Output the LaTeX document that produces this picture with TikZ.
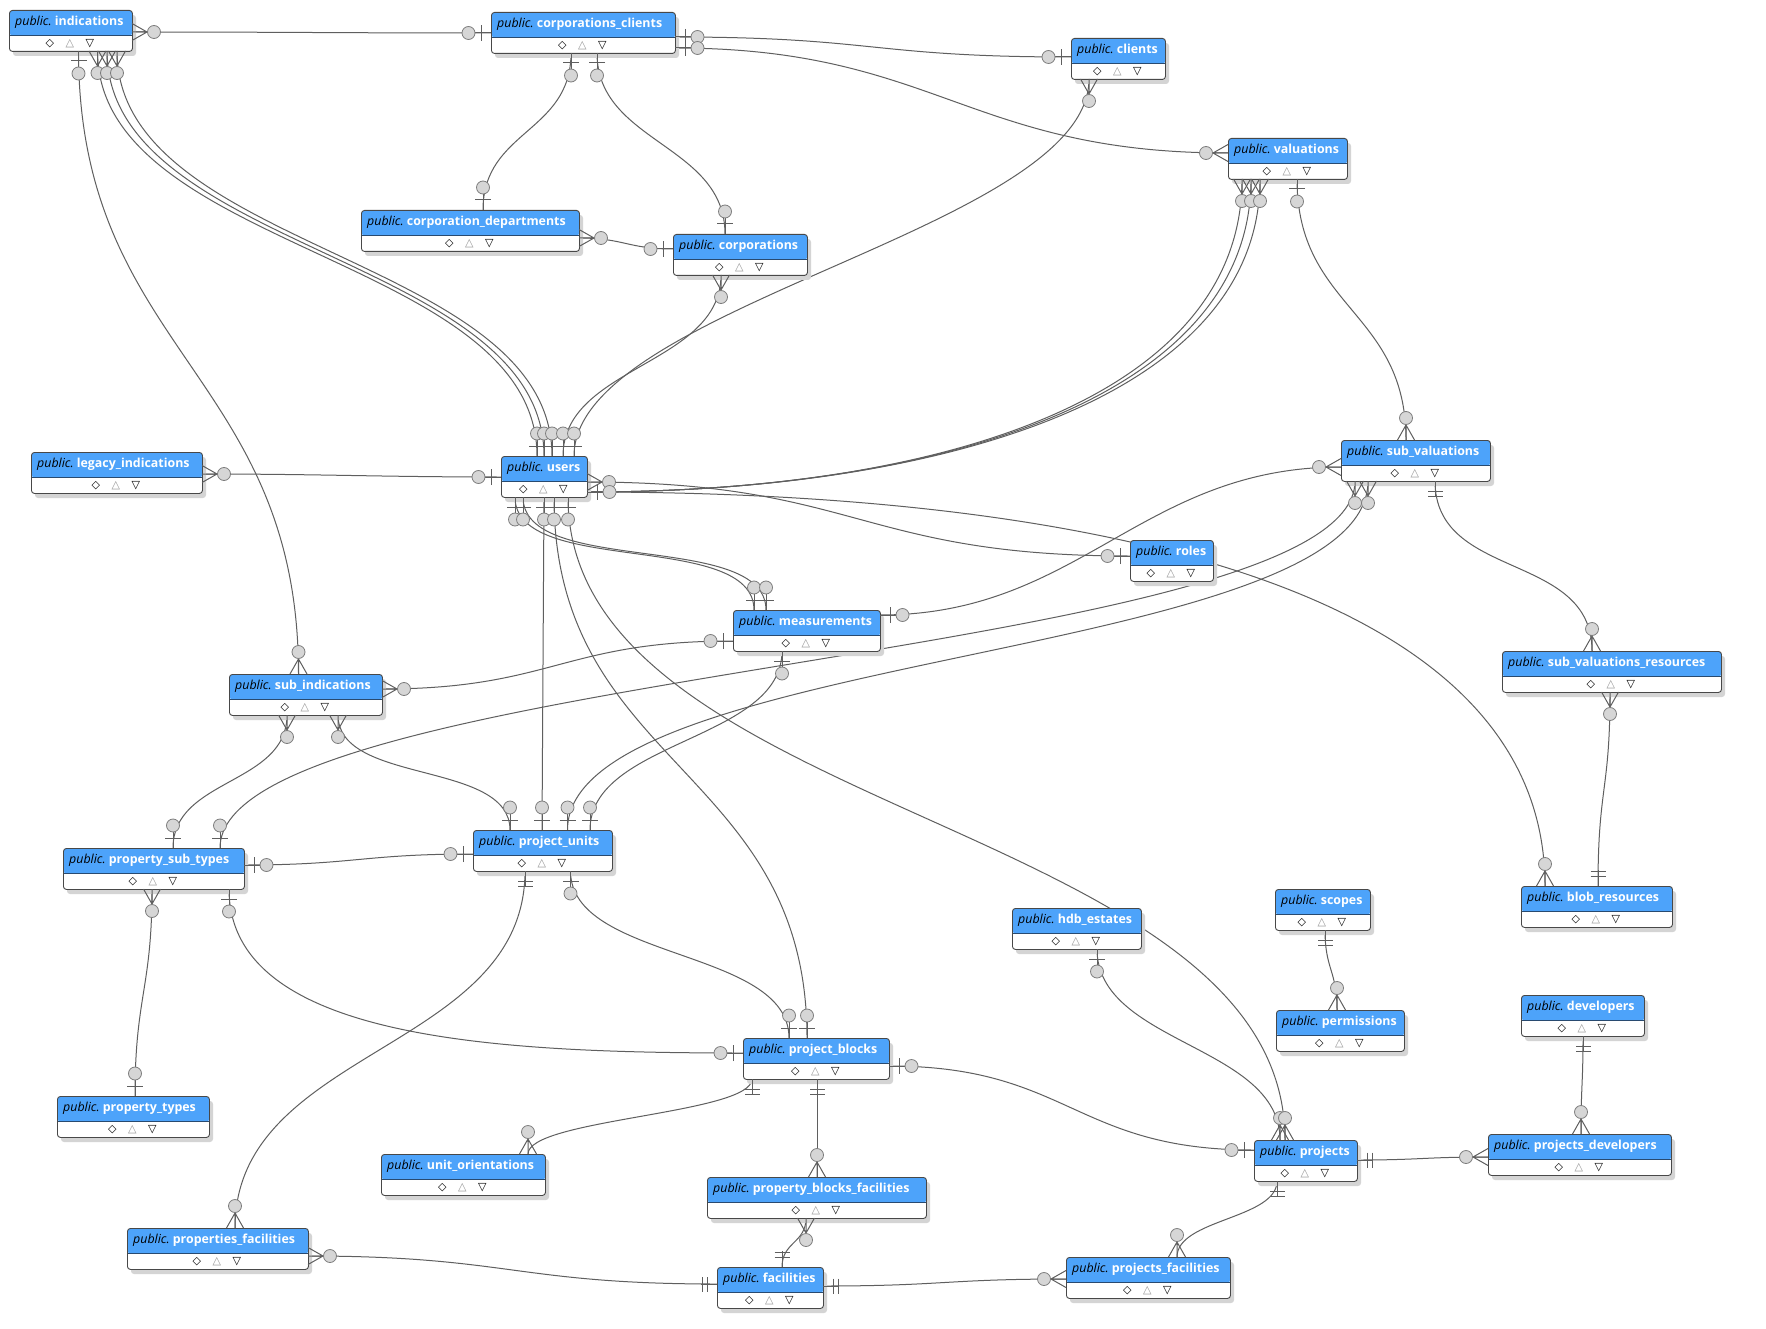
\documentclass[tikz,border=0pt]{standalone}
\usepackage{fontspec}
\setmainfont{Open Sans}
\newfontfamily\keysfont{DejaVu Sans}
\usetikzlibrary{positioning}

\definecolor{headerblue}{RGB}{77,163,250}
\definecolor{headerline}{RGB}{40,74,112}
\definecolor{boxborder}{RGB}{72,72,72}
\definecolor{boxshadow}{RGB}{212,212,212}
\definecolor{relgray}{RGB}{95,95,95}
\definecolor{dotfill}{RGB}{214,214,214}
\definecolor{dotdraw}{RGB}{125,125,125}
\definecolor{keygray}{RGB}{150,150,150}

\tikzset{
  tablebox/.style={draw=boxborder, line width=0.9pt, fill=white,
    rounded corners=3pt, inner sep=0pt, minimum height=41pt, anchor=north west,
    path picture={
      \fill[headerblue] (path picture bounding box.north west)
        rectangle ([yshift=-25pt]path picture bounding box.north east);
      \draw[headerline, line width=1.3pt]
        ([yshift=-25pt]path picture bounding box.north west)
        -- ([yshift=-25pt]path picture bounding box.north east);
    }},
  tabletitle/.style={anchor=west, inner sep=0pt, text=black,
    font=\fontsize{12.4}{14}\selectfont},
  tablekey/.style={inner sep=0pt, font=\keysfont\fontsize{11}{12}\selectfont},
  relline/.style={draw=relgray, line width=1pt},
  reldot/.style={draw=dotdraw, fill=dotfill, line width=0.8pt},
  pics/manyopt/.style={code={
    \draw[relline] (0,-8.5) -- (15,0) -- (0,8.5) (0,0) -- (15,0);
    \draw[reldot] (22,0) circle (6.5pt);
  }},
  pics/oneopt/.style={code={
    \draw[relline] (0,0) -- (16,0) (10,-8) -- (10,8);
    \draw[reldot] (22.5,0) circle (6.5pt);
  }},
  pics/onemand/.style={code={
    \draw[relline] (0,0) -- (16,0) (10,-7.5) -- (10,7.5) (15,-7.5) -- (15,7.5);
  }},
}

% table: name, left, top, right, label
\newcommand\ertable[5]{%
  \fill[boxshadow, rounded corners=3pt] (#2+4,#3+5) rectangle (#4+4,#3+46);
  \node[tablebox, minimum width={#4-#2}] (#1) at (#2,#3) {};
  \node[tabletitle] (#1-title) at ([xshift=6pt, yshift=-12.5pt]#1.north west)
    {\textit{public.}\ \textcolor{white}{\bfseries #5}};
  \node[tablekey] (#1-k1) at ([xshift=-21pt, yshift=8pt]#1.south) {◇};
  \node[tablekey, text=keygray] (#1-k2) at ([xshift=-1pt, yshift=8pt]#1.south) {△};
  \node[tablekey] (#1-k3) at ([xshift=19pt, yshift=8pt]#1.south) {\bfseries ▽};
}

\begin{document}
\begin{tikzpicture}[x=1pt, y=-1pt]

\useasboundingbox (0,0) rectangle (1766,1329);
\fill[white] (0,0) rectangle (1766,1329);

%--- END POINTS ON THE TABLE EDGES ---
% indications
\coordinate (ind-e) at (132,32);
\coordinate (ind-s0) at (78.5,51);
\coordinate (ind-s1) at (97.5,51);
\coordinate (ind-s2) at (107,51);
\coordinate (ind-s3) at (117,51);
% corporations_clients
\coordinate (cc-w) at (491,33);
\coordinate (cc-e1) at (675,37);
\coordinate (cc-e2) at (675,48);
\coordinate (cc-s1) at (571,53);
\coordinate (cc-s2) at (597,53);
% clients
\coordinate (cl-w) at (1071,57);
\coordinate (cl-s) at (1089,79);
% valuations
\coordinate (va-w) at (1228,153);
\coordinate (va-s1) at (1242,179);
\coordinate (va-s2) at (1251,179);
\coordinate (va-s3) at (1260,179);
\coordinate (va-s4) at (1297,179);
% corporation_departments, corporations
\coordinate (cd-n) at (483,210);
\coordinate (cd-e) at (579,238);
\coordinate (co-n) at (725,234);
\coordinate (co-w) at (673,249);
\coordinate (co-s) at (721,275);
% legacy_indications
\coordinate (li-e) at (202,474);
% users
\coordinate (us-w) at (501,477);
\coordinate (us-n1) at (537,456);
\coordinate (us-n2) at (544,456);
\coordinate (us-n3) at (552,456);
\coordinate (us-n4) at (563,456);
\coordinate (us-n5) at (574,456);
\coordinate (us-e1) at (587,482);
\coordinate (us-e2) at (587,492);
\coordinate (us-s1) at (515,497);
\coordinate (us-s2) at (523,497);
\coordinate (us-s3) at (544,497);
\coordinate (us-s4) at (554,497);
\coordinate (us-s5) at (568,497);
% sub_valuations, roles
\coordinate (sv-n) at (1406,440);
\coordinate (sv-w) at (1341,467);
\coordinate (sv-s1) at (1355,481);
\coordinate (sv-s2) at (1368,481);
\coordinate (sv-s3) at (1435,481);
\coordinate (ro-w) at (1130,556);
% measurements
\coordinate (me-n1) at (754,610);
\coordinate (me-n2) at (766,610);
\coordinate (me-w) at (733,641);
\coordinate (me-e) at (880,615);
\coordinate (me-s) at (782,651);
% sub_indications, sub_valuations_resources
\coordinate (si-n) at (298.5,674);
\coordinate (si-e) at (382,689);
\coordinate (si-s1) at (287,715);
\coordinate (si-s2) at (338,715);
\coordinate (svr-n) at (1592,651);
\coordinate (svr-s) at (1610,692);
% property_sub_types, project_units
\coordinate (pst-n1) at (173,848);
\coordinate (pst-n2) at (220,848);
\coordinate (pst-e) at (244,865);
\coordinate (pst-s1) at (152,889);
\coordinate (pst-s2) at (229,889);
\coordinate (pu-n1) at (510,830);
\coordinate (pu-n2) at (542,830);
\coordinate (pu-n3) at (567.5,830);
\coordinate (pu-n4) at (590,830);
\coordinate (pu-w) at (473,854);
\coordinate (pu-s1) at (525,871);
\coordinate (pu-s2) at (570.5,871);
% blob_resources, hdb_estates, scopes, permissions, developers
\coordinate (bl-n1) at (1545,886);
\coordinate (bl-n2) at (1598,886);
\coordinate (hd-s) at (1097,949);
\coordinate (sc-s) at (1325,930);
\coordinate (pe-n) at (1337,1010);
\coordinate (de-s) at (1583,1036);
% project_blocks, property_types
\coordinate (pb-n1) at (789,1038);
\coordinate (pb-n2) at (807,1038);
\coordinate (pb-w) at (743,1053);
\coordinate (pb-e) at (889,1066);
\coordinate (pb-s1) at (752,1079);
\coordinate (pb-s2) at (817,1079);
\coordinate (pt-n) at (135,1096);
% projects, projects_developers
\coordinate (pj-n1) at (1280,1140);
\coordinate (pj-n2) at (1285,1140);
\coordinate (pj-w) at (1254,1150);
\coordinate (pj-e) at (1357,1160);
\coordinate (pj-s) at (1277,1181);
\coordinate (pd-n) at (1581,1134);
\coordinate (pd-w) at (1488,1157);
% bottom row
\coordinate (uo-n) at (528,1154);
\coordinate (pbf-n) at (817,1177);
\coordinate (pbf-s) at (806,1218);
\coordinate (pf-n) at (235,1228);
\coordinate (pf-e) at (308,1256);
\coordinate (fa-n) at (782,1267);
\coordinate (fa-w) at (717,1284);
\coordinate (fa-e) at (823,1286);
\coordinate (pfc-n) at (1177,1257);
\coordinate (pfc-w) at (1066,1279);

%--- RELATIONS ---
\draw[relline] (ind-e) .. controls +(150,0) and +(-150,0) .. (cc-w);
\draw[relline] (ind-s0) .. controls +(0,300) and +(0,-300) .. (si-n);
\draw[relline] (ind-s1) .. controls +(0,200) and +(0,-200) .. (us-n1);
\draw[relline] (ind-s2) .. controls +(0,200) and +(0,-200) .. (us-n2);
\draw[relline] (ind-s3) .. controls +(0,200) and +(0,-200) .. (us-n3);
\draw[relline] (us-n4) .. controls +(0,-90) and +(0,90) .. (co-s);
\draw[relline] (us-n5) .. controls +(0,-150) and +(0,150) .. (cl-s);
\draw[relline] (cc-e1) .. controls +(200,0) and +(-200,0) .. (cl-w);
\draw[relline] (cc-e2) .. controls +(260,0) and +(-260,0) .. (va-w);
\draw[relline] (cc-s1) .. controls +(0,80) and +(0,-80) .. (cd-n);
\draw[relline] (cc-s2) .. controls +(0,90) and +(0,-90) .. (co-n);
\draw[relline] (cd-e) .. controls +(45,0) and +(-45,0) .. (co-w);
\draw[relline] (va-s1) .. controls +(0,220) and +(350,0) .. (us-e2);
\draw[relline] (va-s2) .. controls +(0,220) and +(350,0) .. (us-e2);
\draw[relline] (va-s3) .. controls +(0,220) and +(350,0) .. (us-e2);
\draw[relline] (va-s4) .. controls +(0,130) and +(0,-130) .. (sv-n);
\draw[relline] (li-e) .. controls +(120,0) and +(-120,0) .. (us-w);
\draw[relline] (us-e1) .. controls +(270,0) and +(-270,0) .. (ro-w);
\draw[relline] (us-e2) .. controls +(500,0) and +(0,-300) .. (bl-n1);
\draw[relline] (us-s1) .. controls +(0,80) and +(0,-80) .. (me-n1);
\draw[relline] (us-s2) .. controls +(0,80) and +(0,-80) .. (me-n2);
\draw[relline] (us-s3) -- (pu-n2);
\draw[relline] (us-s4) .. controls +(0,270) and +(0,-270) .. (pb-n2);
\draw[relline] (us-s5) .. controls +(0,320) and +(0,-320) .. (pj-n2);
\draw[relline] (sv-w) .. controls +(-200,0) and +(200,0) .. (me-e);
\draw[relline] (sv-s1) .. controls +(0,180) and +(0,-180) .. (pst-n2);
\draw[relline] (sv-s2) .. controls +(0,180) and +(0,-180) .. (pu-n3);
\draw[relline] (sv-s3) .. controls +(0,100) and +(0,-100) .. (svr-n);
\draw[relline] (svr-s) .. controls +(0,100) and +(0,-100) .. (bl-n2);
\draw[relline] (me-w) .. controls +(-170,0) and +(170,0) .. (si-e);
\draw[relline] (me-s) .. controls +(0,90) and +(0,-90) .. (pu-n4);
\draw[relline] (si-s1) .. controls +(0,70) and +(0,-70) .. (pst-n1);
\draw[relline] (si-s2) .. controls +(0,70) and +(0,-70) .. (pu-n1);
\draw[relline] (pst-e) .. controls +(110,0) and +(-110,0) .. (pu-w);
\draw[relline] (pst-s1) .. controls +(0,100) and +(0,-100) .. (pt-n);
\draw[relline] (pst-s2) .. controls +(0,150) and +(-250,0) .. (pb-w);
\draw[relline] (pu-s1) .. controls +(0,180) and +(0,-180) .. (pf-n);
\draw[relline] (pu-s2) .. controls +(0,90) and +(0,-90) .. (pb-n1);
\draw[relline] (pb-e) .. controls +(180,0) and +(-180,0) .. (pj-w);
\draw[relline] (pb-s1) .. controls +(0,35) and +(0,-35) .. (uo-n);
\draw[relline] (pb-s2) -- (pbf-n);
\draw[relline] (pbf-s) .. controls +(0,25) and +(0,-25) .. (fa-n);
\draw[relline] (pf-e) .. controls +(200,0) and +(-200,0) .. (fa-w);
\draw[relline] (fa-e) .. controls +(120,0) and +(-120,0) .. (pfc-w);
\draw[relline] (hd-s) .. controls +(0,95) and +(0,-95) .. (pj-n1);
\draw[relline] (sc-s) .. controls +(0,40) and +(0,-40) .. (pe-n);
\draw[relline] (de-s) .. controls +(0,50) and +(0,-50) .. (pd-n);
\draw[relline] (pj-e) .. controls +(65,0) and +(-65,0) .. (pd-w);
\draw[relline] (pj-s) .. controls +(0,38) and +(0,-38) .. (pfc-n);

%--- TABLES ---
\ertable{indications}{9}{10}{132}{indications}
\ertable{corpclients}{491}{12}{675}{corporations\_clients}
\ertable{clients}{1071}{38}{1165}{clients}
\ertable{valuations}{1228}{138}{1347}{valuations}
\ertable{corpdepts}{361}{210}{579}{corporation\_departments}
\ertable{corporations}{673}{234}{807}{corporations}
\ertable{legacyind}{31}{452}{202}{legacy\_indications}
\ertable{users}{501}{456}{587}{users}
\ertable{subval}{1341}{440}{1490}{sub\_valuations}
\ertable{roles}{1130}{540}{1213}{roles}
\ertable{measurements}{733}{610}{880}{measurements}
\ertable{subind}{229}{674}{382}{sub\_indications}
\ertable{subvalres}{1502}{651}{1721}{sub\_valuations\_resources}
\ertable{propsubtypes}{63}{848}{244}{property\_sub\_types}
\ertable{projunits}{473}{830}{612}{project\_units}
\ertable{blobres}{1521}{886}{1672}{blob\_resources}
\ertable{hdbestates}{1012}{908}{1141}{hdb\_estates}
\ertable{scopes}{1275}{889}{1370}{scopes}
\ertable{permissions}{1276}{1010}{1404}{permissions}
\ertable{developers}{1521}{995}{1644}{developers}
\ertable{projblocks}{743}{1038}{889}{project\_blocks}
\ertable{proptypes}{57}{1096}{209}{property\_types}
\ertable{projects}{1254}{1140}{1357}{projects}
\ertable{projdevs}{1488}{1134}{1671}{projects\_developers}
\ertable{unitorient}{381}{1154}{545}{unit\_orientations}
\ertable{propblockfac}{707}{1177}{926}{property\_blocks\_facilities}
\ertable{propfac}{127}{1228}{308}{properties\_facilities}
\ertable{facilities}{717}{1267}{823}{facilities}
\ertable{projfac}{1066}{1257}{1230}{projects\_facilities}

%--- ENDS: many, zero or one ---
\foreach \p in {ind-e, cd-e, li-e, us-e1, si-e, pf-e} \pic at (\p) {manyopt};
\foreach \p in {va-w, sv-w, pd-w, pfc-w} \pic[rotate=180] at (\p) {manyopt};
\foreach \p in {ind-s1, ind-s2, ind-s3, cl-s, va-s1, va-s2, va-s3, co-s, sv-s1, sv-s2,
  svr-s, si-s1, si-s2, pst-s1, pbf-s} \pic[rotate=-90] at (\p) {manyopt};
\foreach \p in {sv-n, si-n, svr-n, bl-n1, pe-n, pj-n1, pj-n2, pd-n, uo-n, pbf-n,
  pf-n, pfc-n} \pic[rotate=90] at (\p) {manyopt};

\foreach \p in {cc-e1, cc-e2, us-e2, me-e, pst-e, pb-e} \pic at (\p) {oneopt};
\foreach \p in {cc-w, cl-w, co-w, us-w, ro-w, me-w, pu-w, pb-w, pj-w}
  \pic[rotate=180] at (\p) {oneopt};
\foreach \p in {ind-s0, cc-s1, cc-s2, va-s4, us-s1, us-s2, us-s3, us-s4, us-s5, me-s,
  pst-s2, pu-s2, hd-s} \pic[rotate=-90] at (\p) {oneopt};
\foreach \p in {cd-n, co-n, us-n1, us-n2, us-n3, us-n4, us-n5, me-n1, me-n2, pst-n1,
  pst-n2, pu-n1, pu-n2, pu-n3, pu-n4, pb-n1, pb-n2, pt-n} \pic[rotate=90] at (\p) {oneopt};

% exactly one
\foreach \p in {pj-e, fa-e} \pic at (\p) {onemand};
\pic[rotate=180] at (fa-w) {onemand};
\foreach \p in {sv-s3, pu-s1, sc-s, de-s, pb-s1, pb-s2, pj-s} \pic[rotate=-90] at (\p) {onemand};
\foreach \p in {bl-n2, fa-n} \pic[rotate=90] at (\p) {onemand};

\end{tikzpicture}
\end{document}
